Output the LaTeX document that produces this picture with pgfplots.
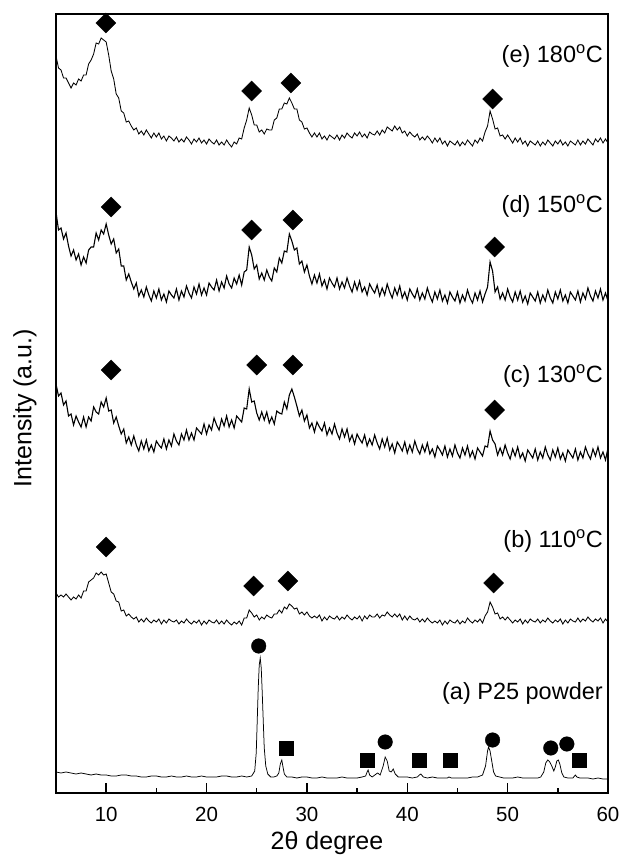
\documentclass[border=0pt]{standalone}
\usepackage{fontspec}
\setmainfont{Liberation Sans}
\usepackage{pgfplots}
\pgfplotsset{compat=1.18}
\begin{document}
\begin{tikzpicture}
\useasboundingbox (-56pt,-62pt) rectangle (564pt,793pt);
\begin{axis}[
  at={(0pt,0pt)}, anchor=south west,
  scale only axis, width=552pt, height=779pt,
  xmin=5, xmax=60, ymin=0, ymax=779,
  xtick={10,20,...,60}, minor xtick={15,25,...,55},
  xtick pos=bottom, ytick=\empty,
  tick align=inside,
  major tick length=10pt, minor tick length=5pt,
  axis line style={line width=1.5pt},
  tick style={line width=1.5pt,black},
  /pgf/number format/assume math mode=true,
  xticklabel style={font=\fontsize{20.5}{24}\selectfont, anchor=base, yshift=-28pt},
  xlabel={2θ degree}, ylabel={Intensity (a.u.)},
  xlabel style={font=\fontsize{25}{29}\selectfont, at={(axis description cs:0.491,0)}, anchor=base, yshift=-56pt},
  ylabel style={font=\fontsize{25}{29}\selectfont, at={(axis description cs:-0.0562,0.494)}, anchor=center},
  clip=false,
]
% (e) 180 C
\addplot[black, line width=0.85pt] coordinates {
(5,737)(5.25,725)(5.5,723)(5.75,715)(6,715)(6.25,710)(6.5,705)(6.75,710)(7,708)(7.25,714)(7.5,712)(7.75,718)(8,718)(8.25,729)(8.5,733)(8.75,739)(9,750)(9.25,749)(9.5,755)(9.75,753)(10,751)(10.25,738)(10.5,722)(10.75,714)(11,699)(11.25,695)(11.5,682)(11.75,680)(12,671)(12.25,672)(12.5,667)(12.75,663)(13,665)(13.25,659)(13.5,662)(13.75,658)(14,663)(14.25,659)(14.5,655)(14.75,660)(15,656)(15.25,660)(15.5,654)(15.75,657)(16,652)(16.25,657)(16.5,655)(16.75,652)(17,656)(17.25,651)(17.5,654)(17.75,651)(18,656)(18.25,653)(18.5,649)(18.75,654)(19,651)(19.25,655)(19.5,650)(19.75,653)(20,649)(20.25,654)(20.5,651)(20.75,649)(21,653)(21.25,648)(21.5,651)(21.75,648)(22,653)(22.25,649)(22.5,646)(22.75,651)(23,649)(23.25,655)(23.5,654)(23.75,665)(24,673)(24.25,685)(24.5,678)(24.75,668)(25,668)(25.25,661)(25.5,663)(25.75,659)(26,664)(26.25,663)(26.5,663)(26.75,673)(27,675)(27.25,684)(27.5,684)(27.75,690)(28,689)(28.25,695)(28.5,690)(28.75,684)(29,684)(29.25,673)(29.5,671)(29.75,664)(30,665)(30.25,660)(30.5,656)(30.75,660)(31,656)(31.25,660)(31.5,654)(31.75,657)(32,653)(32.25,658)(32.5,656)(32.75,654)(33,658)(33.25,653)(33.5,658)(33.75,655)(34,660)(34.25,657)(34.5,655)(34.75,660)(35,657)(35.25,661)(35.5,656)(35.75,659)(36,655)(36.25,661)(36.5,659)(36.75,658)(37,662)(37.25,658)(37.5,663)(37.75,660)(38,666)(38.25,664)(38.5,662)(38.75,667)(39,663)(39.25,666)(39.5,660)(39.75,662)(40,657)(40.25,661)(40.5,658)(40.75,656)(41,659)(41.25,653)(41.5,656)(41.75,653)(42,657)(42.25,654)(42.5,650)(42.75,655)(43,651)(43.25,655)(43.5,649)(43.75,652)(44,647)(44.25,652)(44.5,650)(44.75,648)(45,652)(45.25,647)(45.5,651)(45.75,648)(46,653)(46.25,650)(46.5,647)(46.75,653)(47,650)(47.25,655)(47.5,652)(47.75,661)(48,667)(48.25,682)(48.5,674)(48.75,664)(49,665)(49.25,657)(49.5,658)(49.75,654)(50,658)(50.25,654)(50.5,650)(50.75,655)(51,651)(51.25,655)(51.5,649)(51.75,652)(52,647)(52.25,652)(52.5,650)(52.75,648)(53,652)(53.25,647)(53.5,651)(53.75,648)(54,653)(54.25,650)(54.5,647)(54.75,652)(55,649)(55.25,653)(55.5,648)(55.75,651)(56,647)(56.25,652)(56.5,650)(56.75,648)(57,653)(57.25,648)(57.5,652)(57.75,649)(58,654)(58.25,651)(58.5,648)(58.75,654)(59,651)(59.25,655)(59.5,650)(59.75,654)(60,650)
};
% (d) 150 C
\addplot[black, line width=1.1pt] coordinates {
(5,581)(5.25,563)(5.5,565)(5.75,554)(6,560)(6.25,547)(6.5,537)(6.75,543)(7,533)(7.25,539)(7.5,528)(7.75,536)(8,530)(8.25,543)(8.5,546)(8.75,546)(9,560)(9.25,553)(9.5,563)(9.75,559)(10,569)(10.25,558)(10.5,549)(10.75,554)(11,540)(11.25,544)(11.5,527)(11.75,527)(12,513)(12.25,519)(12.5,511)(12.75,504)(13,510)(13.25,497)(13.5,503)(13.75,496)(14,506)(14.25,498)(14.5,492)(14.75,502)(15,495)(15.25,504)(15.5,493)(15.75,499)(16,491)(16.25,502)(16.5,498)(16.75,495)(17,504)(17.25,493)(17.5,502)(17.75,496)(18,507)(18.25,500)(18.5,495)(18.75,506)(19,499)(19.25,509)(19.5,498)(19.75,505)(20,498)(20.25,510)(20.5,506)(20.75,503)(21,513)(21.25,502)(21.5,511)(21.75,505)(22,517)(22.25,509)(22.5,505)(22.75,515)(23,509)(23.25,518)(23.5,508)(23.75,521)(24,523)(24.25,546)(24.5,538)(24.75,524)(25,528)(25.25,514)(25.5,520)(25.75,513)(26,523)(26.25,516)(26.5,512)(26.75,525)(27,521)(27.25,535)(27.5,530)(27.75,542)(28,541)(28.25,559)(28.5,552)(28.75,543)(29,545)(29.25,529)(29.5,532)(29.75,521)(30,528)(30.25,517)(30.5,509)(30.75,518)(31,510)(31.25,519)(31.5,507)(31.75,513)(32,504)(32.25,515)(32.5,510)(32.75,506)(33,515)(33.25,504)(33.5,511)(33.75,505)(34,515)(34.25,507)(34.5,501)(34.75,511)(35,503)(35.25,512)(35.5,501)(35.75,506)(36,498)(36.25,509)(36.5,504)(36.75,500)(37,508)(37.25,497)(37.5,505)(37.75,498)(38,509)(38.25,501)(38.5,495)(38.75,505)(39,498)(39.25,507)(39.5,495)(39.75,501)(40,493)(40.25,504)(40.5,499)(40.75,495)(41,504)(41.25,493)(41.5,500)(41.75,494)(42,505)(42.25,497)(42.5,491)(42.75,501)(43,494)(43.25,503)(43.5,492)(43.75,498)(44,490)(44.25,501)(44.5,496)(44.75,492)(45,501)(45.25,490)(45.5,498)(45.75,492)(46,503)(46.25,495)(46.5,490)(46.75,500)(47,493)(47.25,502)(47.5,491)(47.75,499)(48,506)(48.25,531)(48.5,522)(48.75,501)(49,506)(49.25,494)(49.5,500)(49.75,493)(50,504)(50.25,496)(50.5,491)(50.75,501)(51,493)(51.25,502)(51.5,491)(51.75,497)(52,489)(52.25,500)(52.5,496)(52.75,492)(53,501)(53.25,490)(53.5,498)(53.75,492)(54,503)(54.25,495)(54.5,490)(54.75,501)(55,494)(55.25,503)(55.5,492)(55.75,498)(56,490)(56.25,501)(56.5,497)(56.75,493)(57,502)(57.25,491)(57.5,500)(57.75,494)(58,505)(58.25,497)(58.5,492)(58.75,502)(59,495)(59.25,504)(59.5,493)(59.75,500)(60,492)
};
% (c) 130 C
\addplot[black, line width=1.1pt] coordinates {
(5,409)(5.25,397)(5.5,400)(5.75,388)(6,392)(6.25,377)(6.5,379)(6.75,368)(7,377)(7.25,371)(7.5,366)(7.75,376)(8,366)(8.25,376)(8.5,372)(8.75,386)(9,381)(9.25,379)(9.5,391)(9.75,386)(10,395)(10.25,382)(10.5,383)(10.75,370)(11,376)(11.25,367)(11.5,359)(11.75,364)(12,350)(12.25,356)(12.5,348)(12.75,357)(13,348)(13.25,342)(13.5,352)(13.75,344)(14,353)(14.25,342)(14.5,348)(14.75,341)(15,352)(15.25,348)(15.5,345)(15.75,354)(16,344)(16.25,353)(16.5,347)(16.75,359)(17,352)(17.25,348)(17.5,359)(17.75,353)(18,363)(18.25,353)(18.5,360)(18.75,353)(19,365)(19.25,362)(19.5,359)(19.75,369)(20,359)(20.25,368)(20.5,363)(20.75,375)(21,368)(21.25,363)(21.5,374)(21.75,367)(22,377)(22.25,366)(22.5,373)(22.75,365)(23,377)(23.25,374)(23.5,371)(23.75,385)(24,384)(24.25,404)(24.5,391)(24.75,392)(25,380)(25.25,373)(25.5,381)(25.75,373)(26,381)(26.25,370)(26.5,376)(26.75,369)(27,382)(27.25,380)(27.5,379)(27.75,391)(28,384)(28.25,398)(28.5,404)(28.75,396)(29,387)(29.25,377)(29.5,383)(29.75,372)(30,378)(30.25,365)(30.5,370)(30.75,361)(31,371)(31.25,366)(31.5,362)(31.75,370)(32,358)(32.25,365)(32.5,359)(32.75,369)(33,360)(33.25,354)(33.5,364)(33.75,356)(34,364)(34.25,352)(34.5,358)(34.75,349)(35,359)(35.25,354)(35.5,350)(35.75,358)(36,347)(36.25,354)(36.5,348)(36.75,358)(37,350)(37.25,344)(37.5,354)(37.75,346)(38,355)(38.25,343)(38.5,349)(38.75,340)(39,351)(39.25,347)(39.5,342)(39.75,351)(40,340)(40.25,348)(40.5,341)(40.75,352)(41,344)(41.25,339)(41.5,348)(41.75,341)(42,350)(42.25,339)(42.5,344)(42.75,336)(43,347)(43.25,343)(43.5,338)(43.75,347)(44,336)(44.25,344)(44.5,337)(44.75,348)(45,340)(45.25,335)(45.5,345)(45.75,338)(46,347)(46.25,336)(46.5,342)(46.75,334)(47,345)(47.25,341)(47.5,337)(47.75,347)(48,346)(48.25,362)(48.5,353)(48.75,349)(49,338)(49.25,345)(49.5,338)(49.75,348)(50,340)(50.25,334)(50.5,344)(50.75,337)(51,346)(51.25,335)(51.5,340)(51.75,332)(52,343)(52.25,339)(52.5,335)(52.75,344)(53,333)(53.25,341)(53.5,335)(53.75,346)(54,338)(54.25,333)(54.5,343)(54.75,336)(55,345)(55.25,334)(55.5,340)(55.75,332)(56,343)(56.25,339)(56.5,335)(56.75,344)(57,333)(57.25,341)(57.5,335)(57.75,346)(58,339)(58.25,334)(58.5,344)(58.75,337)(59,346)(59.25,335)(59.5,341)(59.75,333)(60,345)
};
% (b) 110 C
\addplot[black, line width=0.85pt] coordinates {
(5,200)(5.25,196)(5.5,198)(5.75,196)(6,199)(6.25,196)(6.5,193)(6.75,196)(7,194)(7.25,198)(7.5,195)(7.75,202)(8,202)(8.25,211)(8.5,213)(8.75,215)(9,220)(9.25,218)(9.5,221)(9.75,218)(10,219)(10.25,210)(10.5,201)(10.75,199)(11,192)(11.25,191)(11.5,182)(11.75,183)(12,177)(12.25,179)(12.5,176)(12.75,174)(13,176)(13.25,171)(13.5,174)(13.75,171)(14,175)(14.25,172)(14.5,170)(14.75,173)(15,171)(15.25,174)(15.5,169)(15.75,173)(16,170)(16.25,174)(16.5,172)(16.75,171)(17,173)(17.25,169)(17.5,172)(17.75,170)(18,174)(18.25,171)(18.5,169)(18.75,172)(19,170)(19.25,173)(19.5,168)(19.75,172)(20,169)(20.25,173)(20.5,171)(20.75,170)(21,173)(21.25,169)(21.5,172)(21.75,169)(22,173)(22.25,170)(22.5,168)(22.75,171)(23,169)(23.25,172)(23.5,168)(23.75,175)(24,175)(24.25,183)(24.5,180)(24.75,176)(25,178)(25.25,173)(25.5,176)(25.75,174)(26,178)(26.25,176)(26.5,175)(26.75,179)(27,179)(27.25,183)(27.5,180)(27.75,186)(28,184)(28.25,189)(28.5,187)(28.75,184)(29,185)(29.25,179)(29.5,181)(29.75,178)(30,181)(30.25,177)(30.5,175)(30.75,177)(31,175)(31.25,178)(31.5,172)(31.75,176)(32,173)(32.25,177)(32.5,175)(32.75,174)(33,177)(33.25,173)(33.5,176)(33.75,174)(34,178)(34.25,175)(34.5,173)(34.75,176)(35,174)(35.25,177)(35.5,172)(35.75,177)(36,174)(36.25,178)(36.5,176)(36.75,176)(37,179)(37.25,175)(37.5,178)(37.75,177)(38,181)(38.25,178)(38.5,176)(38.75,179)(39,176)(39.25,179)(39.5,173)(39.75,177)(40,173)(40.25,177)(40.5,174)(40.75,173)(41,175)(41.25,171)(41.5,174)(41.75,171)(42,175)(42.25,172)(42.5,170)(42.75,172)(43,170)(43.25,173)(43.5,168)(43.75,172)(44,169)(44.25,173)(44.5,171)(44.75,170)(45,173)(45.25,169)(45.5,172)(45.75,170)(46,175)(46.25,172)(46.5,170)(46.75,173)(47,171)(47.25,174)(47.5,170)(47.75,177)(48,181)(48.25,191)(48.5,186)(48.75,179)(49,180)(49.25,174)(49.5,176)(49.75,173)(50,176)(50.25,173)(50.5,170)(50.75,173)(51,171)(51.25,174)(51.5,169)(51.75,173)(52,170)(52.25,174)(52.5,172)(52.75,171)(53,174)(53.25,170)(53.5,173)(53.75,171)(54,175)(54.25,172)(54.5,170)(54.75,173)(55,171)(55.25,174)(55.5,169)(55.75,173)(56,170)(56.25,174)(56.5,172)(56.75,171)(57,175)(57.25,171)(57.5,174)(57.75,172)(58,176)(58.25,173)(58.5,171)(58.75,174)(59,172)(59.25,175)(59.5,170)(59.75,174)(60,171)
};
% (a) P25 powder
\addplot[black, line width=0.75pt] coordinates {
(5,21)(5.5,20)(6,21)(6.5,20)(7,19)(7.5,20)(8,19)(8.5,18)(9,19)(9.5,18)(10,18)(10.5,17)(11,17)(11.5,18)(12,18)(12.5,17)(13,17)(13.5,16)(14,16)(14.5,17)(15,17)(15.5,16)(16,16)(16.5,17)(17,16)(17.5,16)(18,17)(18.5,16)(19,16)(19.5,17)(20,16)(20.5,16)(21,16)(21.5,17)(22,17)(22.5,16)(23,16)(23.5,17)(24,16)(24.5,17)(24.8,22)(24.95,40)(25.05,72)(25.15,105)(25.25,128)(25.35,135)(25.45,125)(25.55,100)(25.65,72)(25.75,45)(25.9,27)(26.1,19)(26.4,16)(26.7,16)(27,17)(27.2,20)(27.35,29)(27.5,33)(27.6,27)(27.75,19)(28,16)(28.5,16)(29,15)(29.5,16)(30,16)(30.5,15)(31,15)(31.5,16)(32,15)(32.5,15)(33,15)(33.5,16)(34,15)(34.5,15)(35,15)(35.5,16)(35.85,17)(36,21)(36.1,23)(36.25,18)(36.5,16)(36.9,19)(37.05,20)(37.3,18)(37.6,27)(37.8,36)(38,32)(38.2,22)(38.4,21)(38.6,24)(38.8,19)(39.1,16)(39.5,16)(40,16)(40.5,15)(41,16)(41.2,18)(41.35,19)(41.6,16)(42,15)(42.5,16)(43,15)(43.5,15)(44,15)(44.15,16)(44.4,15)(45,15)(45.5,15)(46,15)(46.5,16)(47,16)(47.5,18)(47.8,27)(48,42)(48.1,46)(48.25,42)(48.45,30)(48.6,21)(48.8,17)(49.2,16)(49.6,15)(50,15)(50.5,15)(51,16)(51.5,15)(52,15)(52.5,15)(53,15)(53.3,16)(53.6,21)(53.8,30)(54,33)(54.2,31)(54.4,27)(54.6,22)(54.75,26)(54.9,32)(55.05,33)(55.2,29)(55.4,20)(55.6,16)(56,15)(56.5,15)(56.75,18)(56.9,16)(57.2,15)(57.5,15)(58,15)(58.5,14)(59,15)(59.5,14)(60,14)
};
% diamond markers
\addplot[only marks, mark=square*, mark size=7.07pt, mark options={rotate=45, fill=black, draw=black}] coordinates {
(9.97,770)(24.5,702)(28.4,710)(48.5,694)
(10.5,586)(24.5,563)(28.6,573)(48.7,546)
(10.5,423)(25.0,428)(28.6,428)(48.7,383)
(10.0,246)(24.7,207)(28.1,212)(48.6,210)
};
% circle markers
\addplot[only marks, mark=*, mark size=7.3pt, mark options={fill=black, draw=black}] coordinates {
(25.2,147)(37.8,51)(48.5,53)(54.3,45)(55.9,49)
};
% square markers
\addplot[only marks, mark=square*, mark size=7pt, mark options={fill=black, draw=black}] coordinates {
(27.9,45)(36.0,33)(41.2,33)(44.3,33)(57.1,33)
};
\node[anchor=base east, font=\fontsize{23.5}{27}\selectfont, inner sep=0pt] at (axis cs:59.5,730) {(e) 180\textsuperscript{o}C};
\node[anchor=base east, font=\fontsize{23.5}{27}\selectfont, inner sep=0pt] at (axis cs:59.5,580) {(d) 150\textsuperscript{o}C};
\node[anchor=base east, font=\fontsize{23.5}{27}\selectfont, inner sep=0pt] at (axis cs:59.5,410) {(c) 130\textsuperscript{o}C};
\node[anchor=base east, font=\fontsize{23.5}{27}\selectfont, inner sep=0pt] at (axis cs:59.5,245) {(b) 110\textsuperscript{o}C};
\node[anchor=base east, font=\fontsize{23.5}{27}\selectfont, inner sep=0pt] at (axis cs:59.5,93) {(a) P25 powder};
\end{axis}
\end{tikzpicture}
\end{document}
